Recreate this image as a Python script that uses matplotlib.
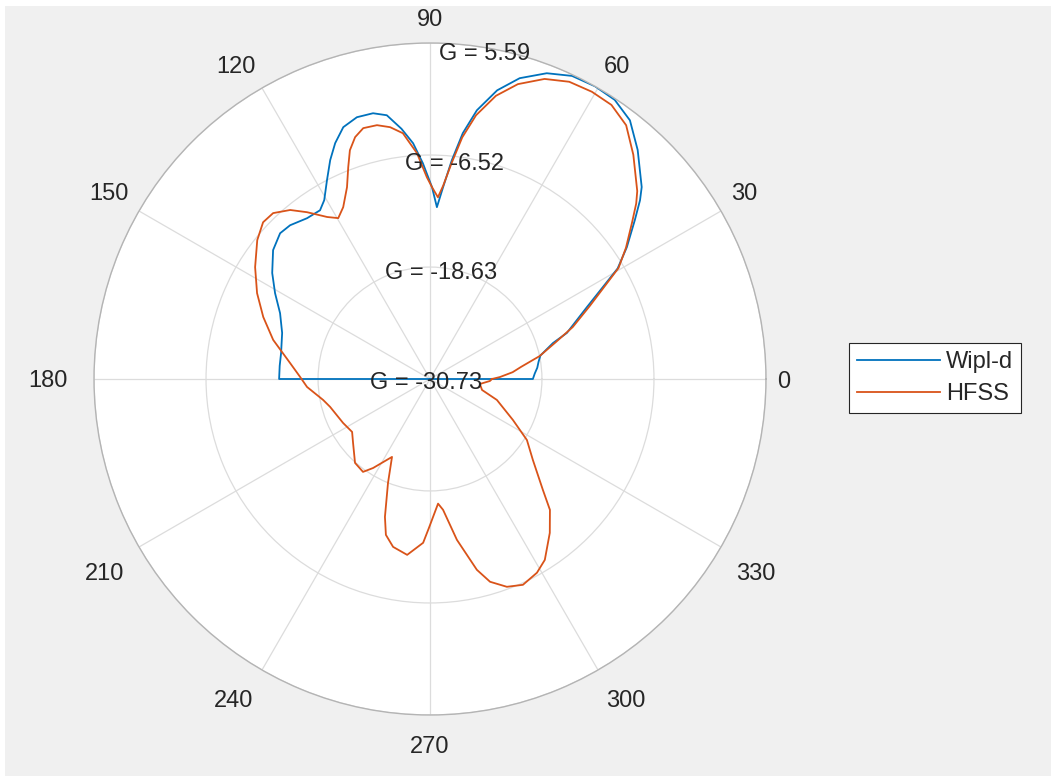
import numpy as np
import matplotlib
matplotlib.use("Agg")
import matplotlib.pyplot as plt
from matplotlib.patches import Rectangle

plt.rcParams["font.family"] = ["Liberation Sans", "DejaVu Sans"]

# Radial gain ticks (dB) and angular ticks (deg)
R_TICKS = [-30.73, -18.63, -6.52, 5.59]
R_MIN, R_MAX = R_TICKS[0], R_TICKS[-1]
THETA_TICKS = list(range(0, 360, 30))

# Wipl-d pattern, upper half-plane only (deg, dB)
wipl_theta = [0, 3, 6, 9, 12, 16.3, 18.6, 24.6, 30.5, 33.8, 37.8, 40.4, 42.2,
              47.8, 52.3, 56.5, 60.6, 64.9, 69.1, 73.4, 76.9, 80.1, 82.4, 84.3,
              86.1, 87.7, 89.4, 91.9, 94.1, 96.5, 99.3, 102.1, 105.6, 109.0,
              111.9, 114.5, 117.4, 120.6, 123.1, 127.4, 132.3, 135.8, 140.6,
              146.1, 151, 156.3, 162.7, 170.1, 175, 180]
wipl_gain = [-19.61, -19.39, -19.07, -18.85, -18.53, -16.88, -15.12, -12.08,
             -7.19, -5.13, -2.71, -0.92, 0.16, 2.69, 4.61, 5.45, 5.59, 5.45,
             4.65, 3.20, 1.31, -1.24, -3.92, -6.96, -9.95, -12.14, -9.99, -7.39,
             -5.18, -3.51, -1.84, -1.35, -1.35, -1.94, -3.25, -4.72, -6.53,
             -8.27, -8.96, -8.85, -8.26, -8.13, -8.78, -10.18, -11.58, -13.03,
             -13.99, -14.39, -14.42, -14.42]

# HFSS pattern, full circle (deg, dB)
hfss_theta = [0, 1.6, 4.7, 7.6, 11.8, 16.3, 20, 24.6, 30.5, 33.8, 37.8, 40.4,
              42.2, 47.8, 52.3, 56.5, 60.6, 64.9, 69.1, 73.4, 76.9, 80.1, 82.4,
              84.3, 86.1, 87.5, 89.4, 90.9, 93.3, 96.3, 99.0, 101.8, 104.9,
              107.2, 109.3, 111.1, 113.4, 116.8, 119.7, 122.4, 126.4, 129.6,
              133.4, 136.8, 141.2, 147.4, 153.6, 159.6, 166, 173.5, 179.1,
              183.7, 191.1, 195.6, 206.8, 214.2, 219.7, 228.2, 234.2, 237.4,
              244.0, 248.0, 251.9, 254.2, 257.6, 262.6, 267.6, 269.6, 273.7,
              275.7, 279.5, 283.8, 286.5, 290.3, 294.3, 298.9, 302.4, 307.9,
              312.5, 315.5, 321.8, 327.8, 333.7, 342.6, 348.1, 354.3, 358.1, 360]
hfss_gain = [-24.03, -23.17, -21.77, -20.79, -18.63, -16.58, -14.31, -11.72,
             -7.08, -5.24, -3.08, -1.46, -0.49, 1.99, 3.94, 4.80, 4.91, 4.75,
             3.99, 2.53, 0.70, -1.79, -4.38, -7.29, -9.78, -11.07, -9.99, -8.91,
             -6.28, -4.00, -3.17, -2.70, -2.67, -3.36, -4.53, -6.18, -8.14,
             -9.92, -10.71, -9.99, -8.33, -7.02, -6.05, -5.98, -6.77, -8.29,
             -9.86, -11.50, -13.26, -15.51, -16.69, -17.41, -18.96, -19.52,
             -20.20, -20.55, -19.92, -18.57, -18.35, -19.31, -21.36, -18.61,
             -15.05, -13.22, -12.15, -11.56, -13.01, -14.64, -17.23, -16.52,
             -13.10, -9.49, -7.87, -6.78, -6.32, -6.81, -7.57, -9.65, -11.54,
             -13.62, -16.58, -18.35, -20.73, -23.15, -24.98, -25.31, -24.25,
             -24.03]

series_labels = ["Wipl-d", "HFSS"]

W, H = 1051, 776
fig = plt.figure(figsize=(W / 100, H / 100), dpi=100, facecolor="white")
fig.patches.append(Rectangle((5 / W, 0), 1, 1 - 6 / H, transform=fig.transFigure,
                             facecolor="#f0f0f0", edgecolor="none", zorder=-10))

ax = fig.add_axes([94 / W, 61 / H, 672 / W, 672 / H], projection="polar")
ax.set_facecolor("white")
ax.set_rlim(R_MIN, R_MAX)
ax.set_rticks(R_TICKS)
ax.set_yticklabels([])
ax.set_thetagrids(THETA_TICKS, labels=[""] * len(THETA_TICKS))
ax.grid(True, color="#dcdcdc", linewidth=0.9)
ax.spines["polar"].set_color("#b4b4b4")
ax.spines["polar"].set_linewidth(1.0)

# Wipl-d: back hemisphere falls below the axis floor, so the trace closes through the centre
ax.plot(np.deg2rad(np.r_[0, wipl_theta, 180]), np.r_[R_MIN, wipl_gain, R_MIN],
        color="#0072BD", linewidth=1.3, label=series_labels[0])
ax.plot(np.deg2rad(hfss_theta), hfss_gain,
        color="#D95319", linewidth=1.3, label=series_labels[1])

text_color = "#262626"
fs = 17

# Angular tick labels outside the rim
for t in THETA_TICKS:
    c, s = np.cos(np.deg2rad(t)), np.sin(np.deg2rad(t))
    ha = "left" if c > 0.01 else ("right" if c < -0.01 else "center")
    extra = 0.0
    if s > 0.01:
        va, pad = "bottom", 12
    elif s < -0.01:
        va, pad = "top", 17
        extra = 4 + 6 * (1 - abs(s))
    else:
        va, pad = "center_baseline", (11 if c > 0 else 26)
    ax.annotate(str(t), xy=(np.deg2rad(t), R_MAX),
                xytext=(pad * c, pad * s - extra),
                textcoords="offset pixels", ha=ha, va=va, fontsize=fs,
                color=text_color, annotation_clip=False)

# Radial tick labels along the 80-degree ray
r_label_shift = [(-4, -4), (-8.4, -4.5), (-13.9, -5.5), (-3.8, -6)]
for r, (dx, dy) in zip(R_TICKS, r_label_shift):
    ax.annotate(f"G = {r:.2f}", xy=(np.deg2rad(80), r), xytext=(dx, dy),
                textcoords="offset pixels", ha="center", va="center",
                fontsize=fs, color=text_color, annotation_clip=False, zorder=5)

leg = ax.legend(loc="upper left", bbox_to_anchor=(849 / W, 1 - 343 / H),
                bbox_transform=fig.transFigure, fontsize=fs, frameon=True,
                fancybox=False, handlelength=3.5, handletextpad=0.25,
                borderpad=0.35, labelspacing=0.42, borderaxespad=0)
leg.get_frame().set_edgecolor(text_color)
leg.get_frame().set_linewidth(0.8)
leg.get_frame().set_facecolor("white")
leg.get_frame().set_alpha(1)
for txt in leg.get_texts():
    txt.set_color(text_color)

fig.savefig("out.png", dpi=100, facecolor=fig.get_facecolor())
